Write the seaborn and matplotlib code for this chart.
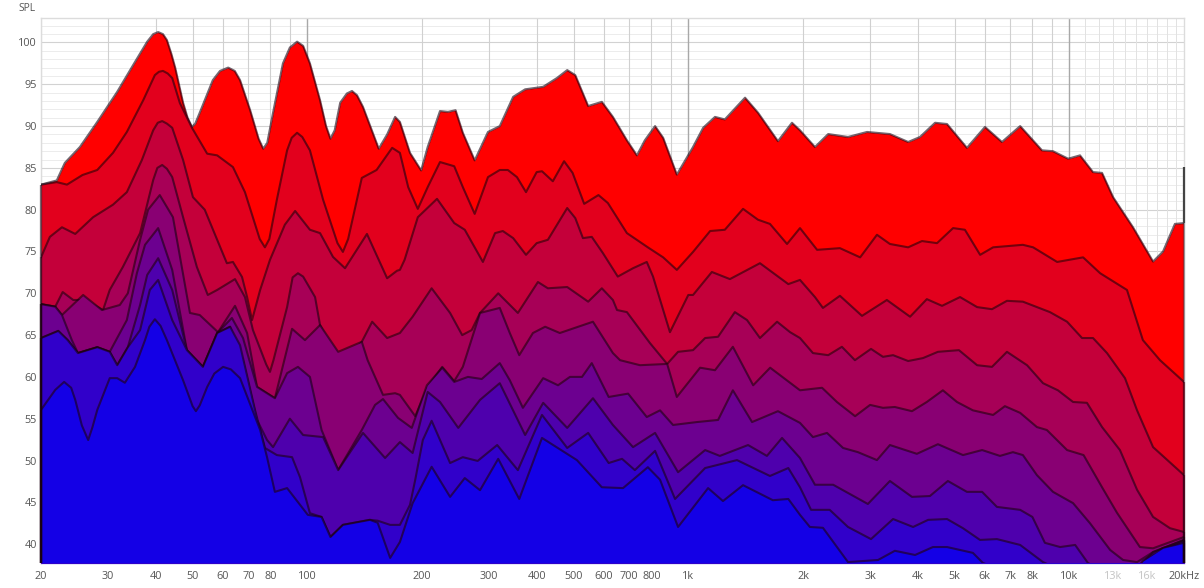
import matplotlib
matplotlib.use("Agg")
import matplotlib.pyplot as plt
import seaborn as sns

sns.set_style("white")
plt.rcParams["font.family"] = ["Open Sans", "DejaVu Sans"]

# x tick labels
TICK_FREQ = [20, 30, 40, 50, 60, 70, 80, 100, 200, 300, 400, 500, 600, 700, 800, 1000, 2000, 3000,
             4000, 5000, 6000, 7000, 8000, 10000, 13000, 16000, 20000]
TICK_TEXT = ["20", "30", "40", "50", "60", "70", "80", "100", "200", "300", "400", "500", "600", "700", "800",
             "1k", "2k", "3k", "4k", "5k", "6k", "7k", "8k", "10k", "13k", "16k", "20kHz"]
FADED_TICKS = ["13k", "16k"]
SPL_TICKS = [40, 45, 50, 55, 60, 65, 70, 75, 80, 85, 90, 95, 100]

GRID_FREQ = [20, 30, 40, 50, 60, 70, 80, 90, 200, 300, 400, 500, 600, 700, 800, 900,
             2000, 3000, 4000, 5000, 6000, 7000, 8000, 9000]
GRID_FREQ_DARK = [100, 1000, 10000]
GRID_FREQ_LIGHT = [11000, 12000, 13000, 14000, 15000, 16000, 17000, 18000, 19000]

# end spike at 20 kHz
RIGHT_EDGE_SPL = 85.1

FREQ_1 = [20, 22, 23.1, 25.3, 28.1, 31.7, 34.9, 38, 39.4, 40.6, 41.8, 42.8, 44, 45, 47.2, 48.5, 49.8, 50.8, 52.2, 56.5, 59, 62,
          64.5, 66.6, 70.8, 74.5, 76.6, 78.5, 81.3, 86.3, 90, 94, 97.5, 101.6, 108, 112, 115, 118, 122, 127, 131, 135, 140,
          154, 162, 170, 175, 186, 199, 207, 223, 234, 245, 256, 275,
          298, 320, 347, 373, 416, 452, 481, 505, 546, 593, 634, 690, 733, 769, 818, 859, 933, 1029, 1094, 1175,
          1247, 1409, 1524, 1719, 1871, 1964, 2150, 2329, 2625, 2945, 3382, 3776, 4056, 4443, 4776, 5386, 6007,
          6656, 7430, 8477, 9061, 9930, 10668, 11538, 12188, 13030, 14694, 16590, 17620, 18930, 20000]
SPL_1 = [83.0, 83.5, 85.6, 87.5, 90.5, 94.1, 97.3, 100.1, 101, 101.25, 101, 100.3, 98.6, 97, 92.8, 91, 89.9, 90.3, 91.6, 95.5, 96.6, 97,
         96.6, 95.5, 91.9, 88.5, 87.3, 88, 91.6, 97.5, 99.4, 100.1, 99.6, 97.5, 93.1, 90, 88.5, 89.5, 92.8, 93.9, 94.2, 93.7, 92.3,
         87.3, 89, 91.1, 90.5, 86.8, 84.7, 87.5, 91.8, 91.7,
         91.9, 89.2, 85.9, 89.3, 90, 93.5, 94.4, 94.7, 95.75, 96.7, 96.1, 92.4, 92.9, 91.1, 88.3, 86.5, 88.3, 90, 88.6,
         84.2, 87.5, 89.8, 91.1, 90.8, 93.4, 91.6, 88.2, 90.4, 89.5, 87.5, 89.05, 88.7, 89.3, 89.05, 88.1, 88.7, 90.4,
         90.25, 87.4, 89.9, 88.1, 90, 87.1, 87, 86.1, 86.5, 84.5, 84.4, 81.5, 77.9, 73.8, 75, 78.3, 78.4]

FREQ_2 = [20, 22, 23.4, 25.7, 28.1, 30.9, 33.6, 37.1, 39.8, 40.8, 41.8, 43, 44.2, 46.3, 49.8, 54.6, 58, 63.8, 68.6, 75, 77.4, 79.5, 83.2,
          88.5, 91, 94, 97, 101.6, 110, 120, 124, 128, 139, 152, 167, 175, 184, 195, 207, 223, 243, 256, 275, 298, 320, 336, 355, 375,
          400, 413, 441, 472, 497, 533, 581, 615, 690, 783, 859, 933, 1029, 1141, 1247, 1392, 1524, 1638, 1816, 1964,
          2178, 2500, 2825, 3127, 3382, 3776, 4105, 4496, 4954, 5321, 5834, 6310, 7553, 8035, 9290, 10870, 12050,
          14170, 15600, 17300, 20000]
SPL_2 = [83, 83.3, 83, 84.15, 84.75, 86.8, 89.3, 93.1, 96.1, 96.5, 96.6, 96.3, 95.75, 92.75, 89.8, 86.7, 86.5, 85.1, 82.1, 76.5, 75.5, 76.5,
         81.2, 87.1, 88.6, 89.2, 88.7, 87.1, 81.2, 76, 74.95, 76.5, 83.8, 84.75, 87.4, 86.8, 82.7, 80.1, 82.7, 85.7, 85.2, 82.7, 79.5, 83.9,
         84.75, 84.75, 83.9, 82.1, 84.5, 84.6, 83.4, 85.8, 84.4, 80.7, 81.75, 80.8, 77.2, 75.5, 74.3, 72.8, 74.95, 77.45,
         77.6, 80.1, 78.8, 78.3, 75.9, 77.8, 75.2, 75.4, 74.3, 77, 75.9, 75.5, 76.25, 76, 77.8, 77.6, 74.6, 75.5, 75.8,
         75.5, 73.75, 74.3, 72.4, 70.4, 64.4, 62, 59.4]

FREQ_3 = [20, 21.1, 22.7, 24.6, 27.4, 30.9, 33.6, 36.8, 39.4, 40.5, 41.6, 42.8, 44.2, 47.2, 50.1, 53.8, 58, 61.5, 63.8, 67.4, 69.5,
          71.6, 75.2, 79.8, 87.3, 92.9, 101.6, 108, 116.8, 125.6, 143.4, 162, 172, 175, 180, 195, 219, 243, 259, 289,
          311, 326, 347, 375, 400, 428, 481, 505, 529, 558, 597, 653, 716, 778, 808, 828, 895, 1000, 1029, 1153, 1286,
          1542, 1830, 1964, 2150, 2256, 2500, 2857, 3320, 3820, 4227, 4634, 5167, 5728, 6267, 6860, 7553, 8896, 9866,
          10800, 11540, 12560, 14000, 15060, 16590, 20000]
SPL_3 = [74.3, 76.75, 77.9, 77.1, 79.1, 80.6, 82.1, 85.95, 89.5, 90.4, 90.6, 90.3, 89.8, 85.95, 81.5, 80, 76.4, 73.6, 73.75, 71.95,
         69.55, 66.8, 70.4, 74, 78.2, 79.85, 77.6, 77.2, 74.35, 73, 77.1, 71.8, 72.7, 72.8, 74, 79.1, 81.3, 78.4, 77.6,
         73.75, 77.2, 77.45, 76.6, 74.6, 76, 76.4, 80.2, 79, 76.6, 76.75, 74.8, 72, 73, 73.75, 72, 70.4, 65.35, 69.8,
         69.8, 72.55, 71.7, 73.6, 71.1, 71.6, 69.55, 68.25, 69.7, 67.3, 69.2, 67.2, 69.3, 68.5, 69.55, 68.35, 68.1, 69.1,
         69, 67.75, 66.6, 64.65, 64.65, 62.85, 59.85, 56, 51.6, 48.25]

FREQ_4 = [20, 21.8, 22.8, 24.3, 26.1, 29.1, 30.3, 32.8, 36.4, 39.4, 40.4, 41.6, 42.8, 44.2, 47.2, 51.3, 54.8, 58, 64.6, 68.6, 72,
          78, 79.8, 81.5, 88.5, 91.5, 94.5, 97.5, 104.8, 108, 120.5, 133, 139, 148, 162, 175, 189, 212, 237, 255, 270, 284, 317, 357, 403,
          428, 481, 546, 593, 634, 650, 690, 793, 880, 940, 1029, 1107, 1197, 1325, 1426, 1542, 1710, 1850, 1964, 2124,
          2329, 2530, 2737, 3017, 3243, 3447, 3776, 4130, 4520, 5132, 5728, 6267, 6860, 7746, 8530, 9334, 10230, 11125,
          12188, 13580, 15060, 16590, 18380, 20000]
SPL_4 = [68.7, 68.4, 70.15, 69.2, 69.2, 68, 70.4, 73.15, 77.2, 83.55, 85, 85.35, 84.9, 83.9, 79.1, 73.15, 69.8, 70.4, 71.7, 69.55,
         65.6, 61.5, 60.6, 62, 68.35, 71.9, 72.4, 72, 69.55, 66.2, 62, 63.2, 64.2, 66.6, 64.65, 65.25, 67.2, 70.6, 67.65, 65, 65.6, 67.65, 70,
         67.65, 71.35, 70.6, 70.75, 69, 70.6, 69.2, 68, 67.75, 64.05, 61.55, 63, 63.2, 64.65, 64.8, 67.75, 66.8, 64.65,
         66.6, 65.35, 64.65, 62.85, 62.6, 63.6, 62, 63.35, 62.4, 62.6, 61.9, 62.25, 63, 63.2, 61.4, 61.2, 63, 61.4, 59.25,
         58.4, 57, 56.9, 54, 51.25, 46.5, 43.25, 41.9, 41.45]

FREQ_5 = [20, 21.8, 22.7, 25.8, 28.9, 32.2, 33.8, 36.4, 38.2, 41, 44.4, 49.2, 52.2, 58.3, 64.6, 69.5, 73.8, 82.2, 91.2,
          98.6, 108, 120.5, 139, 144, 158, 170, 175, 192, 207, 226, 243, 256, 284, 320, 340, 360, 391, 421, 460, 562,
          634, 662, 747, 880, 933, 1074, 1175, 1309, 1480, 1640, 1964, 2244, 2455, 2740, 3000, 3243, 3484, 3864, 4227,
          4657, 5072, 5585, 6310, 6776, 7430, 8222, 8730, 9866, 10900, 12188, 13340, 15320, 16590, 20000]
SPL_5 = [68.7, 68.4, 67.4, 69.8, 68, 68.6, 70, 76.4, 80, 81.75, 79.1, 67.65, 67.4, 65.35, 68.5, 65.25, 58.8, 57.45, 65.75,
         64.4, 66.2, 63, 64.2, 62, 57.85, 58.05, 57.85, 55.3, 58.8, 61.2, 59.5, 61.2, 67.65, 68.25, 65.25, 62.6, 65.25, 66,
         65.25, 66.6, 62.85, 62, 61.4, 61.55, 57.6, 61.1, 60.8, 63.6, 59, 61.1, 58.4, 58.7, 57, 55.3, 56.65, 56.3, 56.4,
         55.9, 57, 58.4, 57, 56, 55.45, 56.5, 55.7, 54, 53.65, 51.25, 50.65, 46.8, 43.75, 39.65, 39.5, 40.85]

FREQ_6 = [20, 21.8, 22.7, 24.1, 25, 28.1, 30.3, 33.6, 35.7, 37.5, 40.6, 44.2, 48.3, 53.2, 58, 63.4, 67.8, 73.8, 82.2, 88.5,
          94.5, 101.6, 109, 120.5, 139, 150.6, 158, 173, 188, 206, 226, 243, 264, 287, 320, 340, 368, 416, 455, 489, 526,
          558, 618, 695, 778, 843, 912, 1054, 1197, 1309, 1470, 1719, 1964, 2124, 2312, 2548, 2787, 3127, 3382, 3980, 4520,
          5260, 5904, 6577, 7113, 7553, 8222, 9061, 10230, 11330, 12800, 13840, 15060, 16590, 20000]
SPL_6 = [68.7, 68.4, 67.4, 64.4, 62.85, 63.55, 63, 66.8, 72.4, 75.8, 77.8, 72.8, 63.2, 61.2, 65.25, 67.05, 64.65, 58.8, 57.45,
         60.45, 61.2, 60, 53.65, 48.85, 53.65, 56.65, 57.35, 55.1, 53.9, 59, 61.1, 59.4, 60, 59.75, 61.65, 59.6, 56.3, 59.85,
         59, 60, 60, 61.65, 57.6, 58, 55.2, 56, 54.25, 54.6, 54.85, 58.4, 54.6, 55.9, 54.5, 52.8, 53.3, 51.5, 51, 50.05, 51.85,
         50.8, 51.95, 50.65, 51.25, 50.55, 51, 50.65, 48.25, 46.25, 44.9, 42.5, 39.3, 38.1, 37.85, 39.05, 40.5]

FREQ_7 = [20, 22.2, 23.5, 25, 28.1, 30.3, 31.7, 33.8, 36.4, 38, 40.6, 44.2, 48.3, 53.2, 58, 62.7, 67.8, 73.8, 78.4, 81.3, 90,
          97.5, 110, 120.5, 140, 160, 175, 189, 207, 223, 249, 284, 320, 373, 416, 481, 562, 634, 716, 818, 940, 1107, 1210,
          1435, 1608, 1762, 1964, 2150, 2400, 2960, 3382, 3864, 4307, 4800, 5386, 5904, 6457, 7430, 8000, 8630, 9460, 10360,
          11190, 12050, 14500, 16590, 20000]
SPL_7 = [64.65, 65.5, 64.4, 62.85, 63.55, 63, 61.4, 63.55, 68.6, 72.2, 74.2, 70.4, 63.2, 61.2, 65.25, 66, 62, 54.85, 52.45,
         51.6, 55, 53.05, 52.8, 48.85, 53.3, 50.3, 52.2, 50.9, 58.2, 57, 53.9, 57.25, 59.25, 53.05, 56.9, 53.9, 57.45, 54.25,
         51.6, 53.3, 48.6, 51.25, 50.55, 51.85, 50.55, 52.7, 50.3, 47.1, 47.1, 44.8, 47.55, 45.65, 45.75, 47.55, 46.25, 46.25,
         44.45, 44.1, 43.25, 40.15, 39.65, 39.9, 37.75, 36.9, 36.3, 39.05, 40.5]

FREQ_8 = [20, 22.2, 23.5, 25, 28.1, 30.3, 31.7, 33.8, 36.4, 38.6, 40.6, 44.2, 48.3, 53.2, 58, 62.7, 66.6, 72.9, 77.4, 83.2,
          91.2, 95.7, 101.6, 109, 115, 124, 146, 153, 165, 175, 186, 192, 201, 212, 237, 256, 280, 315, 357, 413, 481, 546, 618,
          670, 724, 818, 923, 1107, 1342, 1638, 1830, 1964, 2100, 2350, 2625, 3017, 3447, 3890, 4260, 4776, 5260, 5830, 6457,
          7430, 8530, 9460, 14500, 16590, 20000]
SPL_8 = [64.65, 65.5, 64.4, 62.85, 63.55, 63, 61.4, 63.55, 65.6, 70.4, 71.6, 66.8, 63.2, 61.2, 65.25, 66, 63.8, 56.05, 51.5,
         50.65, 50.4, 48, 43.7, 43.25, 40.85, 42.3, 42.9, 42.8, 42.3, 42.3, 44.7, 47.7, 52.45, 54.75, 49.7, 50.4, 49.95, 51.85,
         48.85, 55.45, 51.5, 53.3, 49.7, 50.2, 48.85, 51.15, 45.4, 49.1, 50.05, 48.15, 49.1, 46.8, 44.1, 44.1, 42.05, 40.6, 43,
         42.05, 42.9, 43, 41.9, 40.5, 40.6, 39.9, 37.85, 36.9, 36.3, 38.6, 40.4]

FREQ_9 = [20, 21.8, 23, 24, 24.6, 25.6, 26.6, 27.3, 28.1, 30.3, 31.7, 33.2, 35.3, 37.5, 38.5, 39.8, 41.2, 42.8, 47.2, 50, 51, 52.2, 54.6, 57, 60.1, 63, 66.6, 75.2, 78.4,
          82.2, 88.5, 100.3, 109, 115, 124, 146, 153, 165, 175, 189, 212, 237, 259, 284, 317, 360, 413, 510, 593, 674, 783, 843,
          940, 1127, 1233, 1392, 1667, 1830, 1964, 2085, 2256, 2625, 3147, 3484, 3937, 4386, 4776, 5585, 5932, 6577, 14500,
          15600, 17620, 20000]
SPL_9 = [56.05, 58.45, 59.4, 58.7, 57.25, 54.2, 52.45, 54, 56.05, 59.85, 59.85, 59.3, 61.2, 64.4, 66, 66.9, 66.1, 64.4, 59.6, 56.5, 55.9, 56.6, 58.8, 60.4, 61.2, 60.9, 59.85,
         53.65, 50.4, 46.25, 46.7, 43.5, 43.25, 40.85, 42.3, 42.9, 42.55, 38.35, 40.25, 44.9, 49.25, 45.65, 47.9, 46.45, 50.2,
         45.4, 52.7, 50.05, 46.8, 46.7, 49.2, 47.7, 42.05, 46.7, 45.15, 47.05, 45.25, 45.4, 43.5, 42.05, 41.95, 37.85, 38.1,
         39.2, 38.7, 39.65, 39.65, 38.95, 37.75, 36.9, 36.3, 38, 39.55, 40.15]

CURVES = [(FREQ_1, SPL_1), (FREQ_2, SPL_2), (FREQ_3, SPL_3), (FREQ_4, SPL_4), (FREQ_5, SPL_5),
          (FREQ_6, SPL_6), (FREQ_7, SPL_7), (FREQ_8, SPL_8), (FREQ_9, SPL_9)]

Y_MIN, Y_MAX = 37.74, 102.93

fig = plt.figure(figsize=(12.04, 5.88), dpi=100)
ax = fig.add_axes([41 / 1204, 1 - 563 / 588, 1143 / 1204, 545 / 588])
ax.set_xscale("log")

for db in range(38, 103):
    ax.axhline(db, color="#ececec", lw=0.7, zorder=1)
for db in SPL_TICKS:
    ax.axhline(db, color="#d2d2d2", lw=0.8, zorder=1)
for f in GRID_FREQ_LIGHT:
    ax.axvline(f, color="#e2e2e2", lw=0.7, zorder=1)
for f in GRID_FREQ:
    ax.axvline(f, color="#d0d0d0", lw=0.8, zorder=1)
for f in GRID_FREQ_DARK:
    ax.axvline(f, color="#a8a8a8", lw=1.0, zorder=1)

# back curve is red, front curve blue
colors = sns.blend_palette(["#ff0000", "#1400e6"], 9)
for i, (freq, spl) in enumerate(CURVES):
    ax.fill_between(freq, spl, Y_MIN, color=colors[i], lw=0, zorder=2 + 2 * i)
    sns.lineplot(x=freq, y=spl, sort=False, estimator=None, color="#1a0010", alpha=0.6, lw=1.5,
                 ax=ax, zorder=3 + 2 * i)
    ax.vlines([20, 20000], Y_MIN, [spl[0], spl[-1]], color="#1a0010", alpha=0.35, lw=1.6, zorder=30, clip_on=False)

ax.vlines(20000, SPL_1[-1], RIGHT_EDGE_SPL, color="#444444", lw=1.6, zorder=30, clip_on=False)

ax.set_xlim(20, 20000)
ax.set_ylim(Y_MIN, Y_MAX)
ax.minorticks_off()
ax.set_xticks(TICK_FREQ)
ax.set_xticklabels(TICK_TEXT)
ax.set_yticks(SPL_TICKS)
ax.tick_params(axis="both", length=0, labelsize=7.8, labelcolor="#555555")
ax.tick_params(axis="x", pad=6)
ax.tick_params(axis="y", pad=3)
ax.xaxis.set_minor_locator(matplotlib.ticker.NullLocator())
for label in ax.get_xticklabels():
    if label.get_text() in FADED_TICKS:
        label.set_color("#c4c4c4")
ax.text(-0.0044, 1.018, "SPL", transform=ax.transAxes, ha="right", va="center", fontsize=7.4, color="#555555")
ax.set_xlabel("")
ax.set_ylabel("")

for side in ax.spines:
    ax.spines[side].set_color("#dcdcdc")
    ax.spines[side].set_linewidth(1)
ax.spines["bottom"].set_color("#7a78dc")

fig.savefig("out.png", dpi=100)
